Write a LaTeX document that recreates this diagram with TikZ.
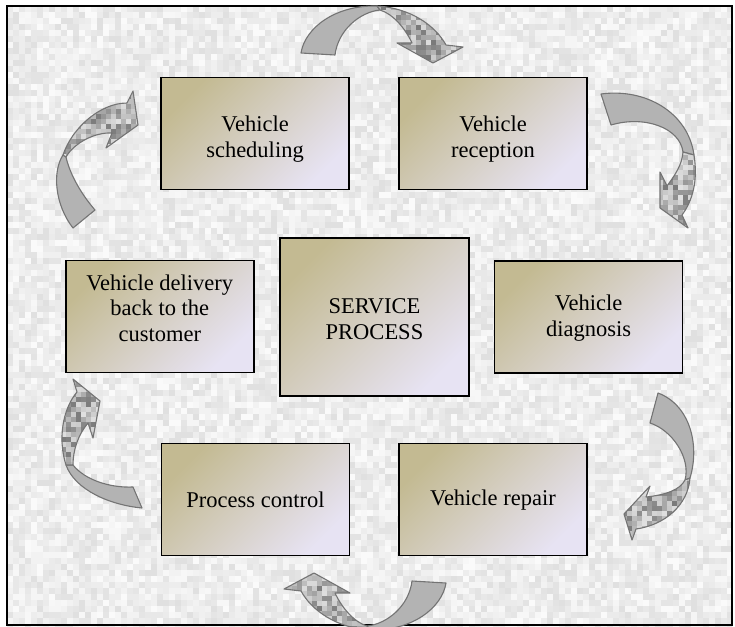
\documentclass[tikz,border=0pt]{standalone}
\usepackage{fontspec}
\setmainfont{Liberation Serif}

\definecolor{boxtop}{HTML}{C3BA92}
\definecolor{boxbot}{HTML}{E7E3F3}
\definecolor{ribbon}{HTML}{B3B3B3}
\definecolor{ribbonedge}{HTML}{747474}

% grid of randomly shaded grey tiles: x0, y0 (downwards), nx, ny, size, lightest, darkest
\newcommand\tiles[7]{%
  \foreach \ti in {0,...,#3}{%
    \foreach \tj in {0,...,#4}{%
      \pgfmathrandominteger{\tileshade}{#6}{#7}%
      \pgfsetfillcolor{black!\tileshade}%
      \pgfpathrectangle{\pgfpoint{#1pt+\ti*#5pt}{-#2pt-\tj*#5pt-#5pt}}{\pgfpoint{#5pt+0.2pt}{#5pt+0.2pt}}%
      \pgfusepath{fill}}}}

% two-tone curved arrow: plain tail part, mosaic head part
\newcommand\curvedarrow[6]{%
  \path[band] #1;%
  \begin{scope}
    \clip #2;
    \tiles{#3}{#4}{#5}{#6}{5}{12}{52}
  \end{scope}
  \path[bandedge] #2;}

\tikzset{
  stage/.style={draw=black, line width=1.8pt, shading=axis, top color=boxtop,
    bottom color=boxbot, shading angle=45, minimum width=188pt,
    minimum height=112pt, inner sep=0pt},
  hub/.style={stage, minimum width=189pt, minimum height=158pt},
  caption/.style={font=\fontsize{22.5}{25.5}\selectfont, align=center, inner sep=0pt},
  band/.style={fill=ribbon, draw=ribbonedge, line width=1.1pt, line join=round},
  bandedge/.style={draw=ribbonedge, line width=1.1pt, line join=round},
}

\begin{document}
\begin{tikzpicture}[x=1pt, y=1pt]
\useasboundingbox (0,0) rectangle (735,-626);
\pgfmathsetseed{4711}

% speckled backdrop inside the frame
\begin{scope}
  \clip (7,-6) rectangle (732,-626);
  \tiles{7}{6}{121}{103}{6}{2}{12}
\end{scope}
\draw[line width=1.5pt] (7,-6) rectangle (732,-625);

% arrows between the stages, clockwise
\curvedarrow
  {(301,-53) .. controls (305,-28) and (335,-5) .. (377,-6) -- (380,-10) .. controls (360,-12) and (338,-30) .. (335,-55) -- cycle}
  {(377,-6) .. controls (410,-8) and (435,-25) .. (446,-45) -- (463,-47) -- (433,-63) -- (397,-43) -- (412,-43) .. controls (405,-28) and (393,-14) .. (380,-10) -- cycle}
  {376}{5}{18}{12}

\curvedarrow
  {(601,-94) .. controls (645,-88) and (688,-112) .. (694,-155) -- (683,-152) .. controls (680,-128) and (645,-115) .. (611,-125) -- cycle}
  {(694,-155) .. controls (698,-180) and (693,-200) .. (682,-215) -- (688,-228) -- (660,-208) -- (660,-172) -- (667,-186) .. controls (675,-175) and (682,-165) .. (683,-152) -- cycle}
  {658}{150}{9}{16}

\curvedarrow
  {(658,-393) .. controls (690,-405) and (700,-445) .. (690,-478) -- (685,-480) .. controls (691,-458) and (672,-430) .. (650,-423) -- cycle}
  {(690,-478) .. controls (688,-505) and (665,-525) .. (636,-529) -- (632,-540) -- (624,-514) -- (650,-486) -- (646,-497) .. controls (665,-495) and (680,-490) .. (685,-480) -- cycle}
  {622}{476}{14}{14}

\curvedarrow
  {(446,-583) .. controls (442,-608) and (412,-631) .. (370,-630) -- (367,-626) .. controls (387,-624) and (409,-606) .. (412,-581) -- cycle}
  {(370,-630) .. controls (337,-628) and (312,-611) .. (301,-591) -- (284,-589) -- (314,-573) -- (350,-593) -- (335,-593) .. controls (342,-608) and (354,-622) .. (367,-626) -- cycle}
  {282}{571}{18}{13}

\curvedarrow
  {(142,-508) .. controls (110,-505) and (75,-490) .. (66,-465) -- (73,-465) .. controls (85,-480) and (110,-488) .. (133,-487) -- cycle}
  {(66,-465) .. controls (58,-440) and (62,-410) .. (77,-392) -- (73,-379) -- (100,-401) -- (93,-438) -- (88,-423) .. controls (78,-435) and (73,-450) .. (73,-465) -- cycle}
  {56}{377}{9}{18}

\curvedarrow
  {(73,-228) .. controls (55,-205) and (52,-172) .. (63,-155) -- (66,-157) .. controls (70,-175) and (82,-195) .. (95,-210) -- cycle}
  {(63,-155) .. controls (72,-128) and (100,-103) .. (127,-103) -- (133,-91) -- (138,-125) -- (106,-148) -- (112,-133) .. controls (95,-132) and (74,-143) .. (66,-157) -- cycle}
  {56}{89}{17}{14}

% stages
\node[stage] (sched)  at (255,-133.5) {};
\node[stage] (recept) at (493,-133.5) {};
\node[stage] (deliv)  at (159.75,-316.5) {};
\node[hub]   (hubbox) at (374.5,-317) {};
\node[stage] (diag)   at (588.5,-317) {};
\node[stage] (ctrl)   at (255.5,-499.5) {};
\node[stage] (repair) at (493,-499.5) {};

\node[caption] (schedtext)  at (255,-139) {Vehicle\\scheduling};
\node[caption] (recepttext) at (493,-139) {Vehicle\\reception};
\node[caption] (delivtext)  at (159.75,-308) {Vehicle delivery\\back to the\\customer};
\node[caption] (hubtext)    at (374.5,-319) {SERVICE\\PROCESS};
\node[caption] (diagtext)   at (588.5,-318) {Vehicle\\diagnosis};
\node[caption] (ctrltext)   at (255.5,-500) {Process control};
\node[caption] (repairtext) at (493,-500) {Vehicle repair};
\end{tikzpicture}
\end{document}
